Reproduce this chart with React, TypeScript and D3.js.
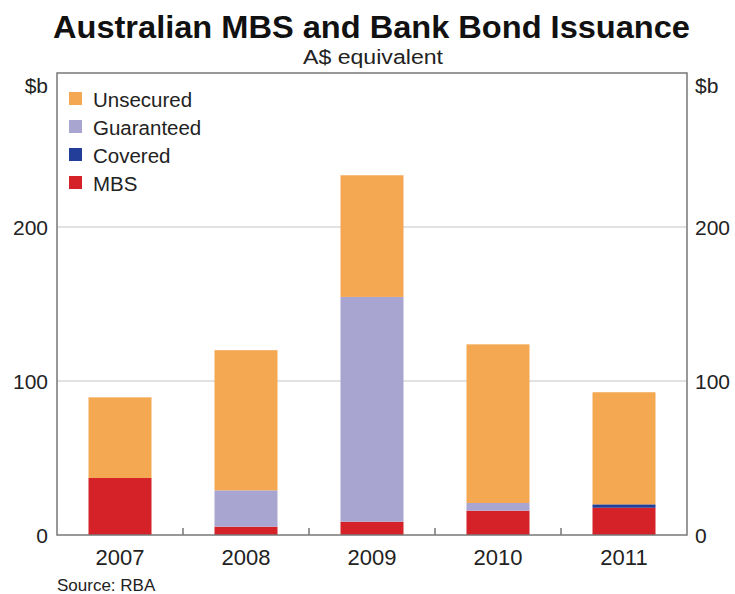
import React from "react";
import * as d3 from "d3";

const years = ["2007", "2008", "2009", "2010", "2011"];
const mbs = [37, 5.4, 8.6, 15.8, 17.7];
const covered = [0, 0, 0, 0, 2.2];
const guaranteed = [0, 23.6, 146, 5, 0];
const unsecured = [52.4, 91, 79, 103, 72.8];
const yTicks = [0, 100, 200];

const seriesNames = ["MBS", "Covered", "Guaranteed", "Unsecured"];
const seriesColors: Record<string, string> = {
  MBS: "#d52128",
  Covered: "#233e99",
  Guaranteed: "#a8a5d0",
  Unsecured: "#f4a851",
};
const legendOrder = ["Unsecured", "Guaranteed", "Covered", "MBS"];

export default function App() {
  const W = 735, H = 594;
  const left = 57, right = 687, top = 73, bottom = 535;
  const x = d3.scaleBand().domain(years).range([left, right]).paddingInner(0.5).paddingOuter(0.25);
  const y = d3.scaleLinear().domain([0, 300]).range([bottom, top]);
  const rows = years.map((yr, i) => ({
    year: yr,
    MBS: mbs[i],
    Covered: covered[i],
    Guaranteed: guaranteed[i],
    Unsecured: unsecured[i],
  }));
  const stack = d3.stack<any>().keys(seriesNames)(rows);
  const band = (right - left) / years.length;
  const font = "Liberation Sans, Arial, sans-serif";
  const tc = "#222";
  return (
    <svg width={W} height={H} style={{ position: "absolute", left: 0, top: 0 }} fontFamily={font}>
      <rect width={W} height={H} fill="#fff" />
      <text x={53} y={38} fontSize={31} fontWeight="bold" fill="#111" textLength={637} lengthAdjust="spacingAndGlyphs">
        Australian MBS and Bank Bond Issuance
      </text>
      <text x={303} y={64} fontSize={20} fill={tc} textLength={140} lengthAdjust="spacingAndGlyphs">A$ equivalent</text>
      {yTicks.filter(t => t > 0).map(t => (
        <line key={t} x1={left} x2={right} y1={y(t)} y2={y(t)} stroke="#d9d9d9" strokeWidth={1.5} />
      ))}
      {stack.map(s => (
        <g key={s.key} fill={seriesColors[s.key]}>
          {s.map((d, i) => (
            d[1] - d[0] > 0 ? (
              <rect key={i} x={x(years[i])} width={x.bandwidth()} y={y(d[1])} height={y(d[0]) - y(d[1])} />
            ) : null
          ))}
        </g>
      ))}
      <rect x={left} y={top} width={right - left} height={bottom - top} fill="none" stroke="#777" strokeWidth={1.5} />
      {d3.range(1, years.length).map(i => (
        <line key={i} x1={left + i * band} x2={left + i * band} y1={bottom} y2={bottom - 7} stroke="#777" strokeWidth={1.5} />
      ))}
      {yTicks.map(t => (
        <g key={t}>
          <text x={48} y={y(t) + 8} textAnchor="end" fontSize={21} fill={tc}>{t}</text>
          <text x={695} y={y(t) + 8} textAnchor="start" fontSize={21} fill={tc}>{t}</text>
        </g>
      ))}
      <text x={48} y={93} textAnchor="end" fontSize={21} fill={tc}>$b</text>
      <text x={695} y={93} textAnchor="start" fontSize={21} fill={tc}>$b</text>
      {years.map(yr => (
        <text key={yr} x={(x(yr) as number) + x.bandwidth() / 2} y={565} textAnchor="middle" fontSize={22} fill={tc}>{yr}</text>
      ))}
      <text x={57} y={591} fontSize={17} fill={tc}>Source: RBA</text>
      {legendOrder.map((k, i) => (
        <g key={k} transform={`translate(69, ${107 + i * 28})`}>
          <rect x={0} y={-15} width={13} height={13} fill={seriesColors[k]} />
          <text x={24} y={0} fontSize={20.5} fill={tc}>{k}</text>
        </g>
      ))}
    </svg>
  );
}
